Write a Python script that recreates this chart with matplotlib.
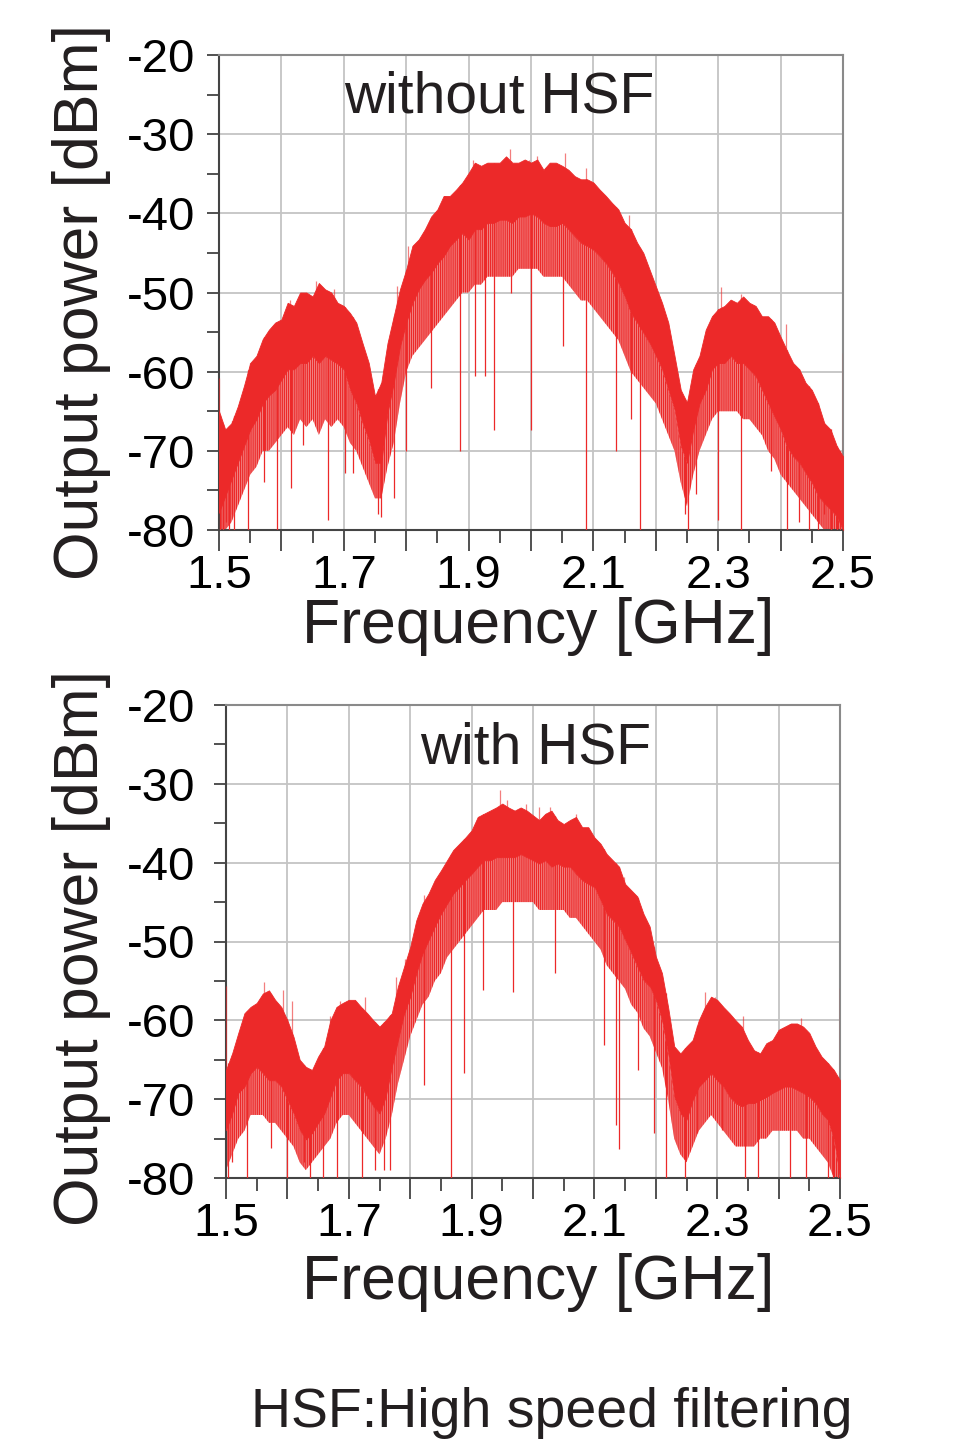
import numpy as np
import matplotlib.pyplot as plt
from matplotlib.ticker import MultipleLocator

plt.rcParams['font.family'] = ['Liberation Sans', 'DejaVu Sans']
plt.rcParams['hatch.linewidth'] = 0.9

# frequency grid of the read-off envelope [GHz]
freq = np.linspace(1.5, 2.5, 101)

# --- without HSF: top / bottom of the dense trace band, and reach of the sparse spikes [dBm] ---
top_hi = [-65, -67.3, -66.5, -64.4, -61.8, -58.9, -58, -55.9, -54.7, -53.8,
          -53.4, -51.3, -51.7, -50, -50, -50.5, -48.8, -49.6, -50, -51.3,
          -51.7, -52.6, -53.8, -56.4, -58.9, -63.1, -61.4, -56.4, -53, -49.6,
          -47.1, -44.1, -43.3, -42, -40.4, -39.5, -37.8, -37.8, -37, -36.1,
          -34.9, -33.6, -34, -33.6, -33.6, -33.6, -32.8, -33.6, -33.6, -33.2,
          -33.6, -33.2, -34.5, -33.6, -33.6, -34, -34.5, -35.3, -35.7, -35.7,
          -36.1, -37, -37.8, -38.7, -39.5, -41.2, -42, -43.7, -45, -47.1,
          -49.2, -51.3, -53.8, -58, -62.3, -63.9, -59.7, -58, -54.7, -53,
          -52.1, -51.7, -50.9, -51.3, -50.5, -51.3, -51.7, -53, -53, -53.8,
          -55.6, -57.3, -58.9, -59.7, -61.4, -62.3, -64, -66.5, -67.3, -69.4, -70.7]
top_lo = [-77.8, -75.7, -73.6, -71.5, -69.4, -67.3, -66, -64, -63, -62.3,
          -61, -59.7, -59.7, -58.9, -58.9, -58, -58.9, -58, -58.5, -59,
          -59.7, -62.3, -64, -66.5, -68.6, -71.5, -71.5, -65.2, -61.4, -56.8,
          -53.8, -51.3, -49.6, -48.4, -47.5, -46.3, -45.4, -44.1, -43.3, -42.5,
          -43.3, -42, -42, -41.2, -41.2, -40.8, -40.8, -41.2, -40.4, -40.4,
          -40, -40.4, -41.2, -41.6, -41.6, -41.2, -42, -42.9, -43.7, -44.1,
          -44.6, -45.4, -46.3, -47.5, -48.8, -50.5, -52.6, -53.8, -55.1, -56.4,
          -58, -59.7, -62.3, -64.8, -69.4, -71.5, -67.3, -64, -62.3, -59.7,
          -58.9, -58.9, -58, -58.9, -58.9, -59.7, -60.6, -62.3, -64, -65.7,
          -67.3, -69.4, -70.7, -71.5, -72.8, -74, -75.7, -76.6, -77.4, -78.3, -80]
top_lo2 = [-80, -80, -79, -77, -75, -73, -72, -70, -70, -69,
           -68, -67, -68, -66, -67, -66, -68, -66, -67, -66,
           -67, -69, -70, -72, -74, -76, -76, -72, -69, -64,
           -60, -58, -57, -56, -55, -54, -53, -52, -51, -50,
           -50, -49, -49, -48, -48, -48, -48, -48, -47, -47,
           -47, -47, -48, -48, -48, -48, -49, -50, -51, -51,
           -52, -53, -54, -55, -56, -58, -60, -61, -62, -63,
           -64, -66, -68, -70, -74, -77, -73, -70, -68, -66,
           -65, -65, -65, -65, -66, -66, -67, -68, -70, -71,
           -73, -74, -75, -76, -77, -78, -79, -80, -80, -80, -80]
# deep dips and high spikes (without HSF)
top_dip_f = [1.502, 1.507, 1.511, 1.516, 1.521, 1.524, 1.547, 1.572, 1.593, 1.616, 1.635,
             1.675, 1.702, 1.714, 1.755, 1.76, 1.78, 1.80, 1.839, 1.887, 1.91,
             1.926, 1.941, 1.968, 2.0, 2.052, 2.088, 2.136, 2.16, 2.175, 2.247,
             2.251, 2.264, 2.3, 2.337, 2.385, 2.41, 2.43, 2.445, 2.46, 2.47,
             2.48, 2.49, 2.495]
top_dip_v = [-80, -80, -79, -80, -78, -80, -80, -73.9, -80, -74.7, -69.3,
             -78.7, -72.8, -72.8, -78, -78.3, -76, -70, -62, -70, -60.6,
             -60.6, -67.4, -50, -67.4, -56.8, -80, -70, -66, -80, -78,
             -80, -75.4, -78.7, -80, -72.6, -80, -79, -80, -80, -78,
             -80, -80, -80]
top_pk_f = [1.500, 1.549, 1.613, 1.656, 1.685, 1.786, 1.803, 1.862, 1.907, 1.966,
            1.996, 2.010, 2.054, 2.088, 2.157, 2.305, 2.337, 2.409, 2.500]
top_pk_v = [-60.8, -58.9, -50.9, -48.6, -49.5, -49.2, -44.1, -37.8, -33.2, -31.9,
            -33.2, -32.8, -32.4, -34.3, -40.2, -49.3, -50.2, -54, -57.6]

# --- with HSF ---
bot_hi = [-66.3, -64.2, -61.6, -59.1, -58.3, -57.8, -56.6, -56.2, -57.4, -58.3,
          -60, -62.1, -65, -65.9, -66.3, -64.6, -63.3, -60, -58.3, -57.8,
          -57.4, -57.4, -58.3, -59.1, -60, -60.8, -60, -59.1, -55.7, -53.2,
          -50.7, -47.3, -45.2, -43.9, -42.2, -41, -39.7, -38.4, -37.6, -36.8,
          -35.9, -34.2, -33.8, -33.4, -33, -32.5, -33, -33.4, -33, -33.4,
          -34, -34.6, -33.8, -33.4, -34.6, -35.1, -34.6, -34.2, -35.5, -35.5,
          -36.8, -37.6, -38.9, -39.7, -40.5, -42.7, -43.5, -44.3, -46.5, -48.1,
          -51.9, -54, -58.3, -63.3, -64.2, -63.3, -62.5, -60, -58.3, -57,
          -57.4, -58.3, -59.1, -60, -60.8, -62.5, -63.8, -64.2, -62.9, -62.5,
          -61.2, -60.8, -60.4, -60.4, -60.8, -61.6, -63.3, -64.6, -65.4, -66.3, -67.6]
bot_lo = [-73.9, -71.8, -69.2, -68.4, -66.7, -65.9, -66.7, -67.6, -67.6, -68.4,
          -70.1, -71.8, -73.9, -75.1, -74.3, -73, -71.8, -69.7, -67.6, -66.7,
          -66.7, -67.6, -68.4, -69.7, -70.9, -71.8, -69.7, -65.9, -62.5, -59.1,
          -57, -54, -51.5, -49.8, -48.1, -46.5, -45.2, -43.9, -43.1, -42.2,
          -41.4, -40.5, -39.7, -39.7, -39.3, -39.3, -39.3, -39.3, -38.9, -39.3,
          -39.7, -40.1, -39.7, -40.5, -40.1, -40.5, -40.5, -41.4, -42.2, -42.7,
          -43.1, -44.8, -46.5, -47.3, -48.1, -49.8, -51.5, -53.2, -54.9, -55.7,
          -57.4, -60, -64.2, -69.7, -71.8, -72.6, -70.1, -68.4, -67.6, -66.7,
          -67.6, -68.4, -69.7, -70.5, -70.9, -70.5, -70.5, -70.1, -69.7, -69.2,
          -68.8, -68.4, -68.4, -68.8, -69.2, -69.7, -70.5, -71.8, -72.6, -75.1, -80]
bot_lo2 = [-79, -77, -75, -74, -72, -72, -72, -73, -73, -74,
           -75, -76, -78, -79, -78, -77, -76, -75, -73, -72,
           -72, -73, -74, -75, -76, -77, -75, -72, -68, -65,
           -62, -60, -58, -57, -55, -54, -52, -51, -50, -49,
           -48, -47, -46, -46, -46, -45, -45, -45, -45, -45,
           -45, -46, -46, -46, -46, -46, -47, -47, -48, -49,
           -50, -51, -53, -54, -55, -56, -58, -59, -61, -62,
           -64, -66, -70, -75, -77, -78, -76, -74, -73, -72,
           -73, -74, -75, -76, -76, -76, -76, -75, -75, -74,
           -74, -74, -74, -74, -75, -75, -76, -77, -78, -80, -80]
bot_dip_f = [1.504, 1.509, 1.534, 1.574, 1.599, 1.627, 1.636, 1.658, 1.681, 1.721,
             1.742, 1.757, 1.767, 1.822, 1.866, 1.887, 1.919, 1.967, 2.036, 2.115,
             2.135, 2.14, 2.171, 2.197, 2.216, 2.247, 2.267, 2.308, 2.346, 2.366,
             2.418, 2.445, 2.48, 2.488, 2.497]
bot_dip_v = [-80, -78, -80, -76.2, -80, -78, -80, -80, -80, -80,
             -79, -79, -79, -68.2, -80, -66.7, -56.2, -56.4, -54, -63.1,
             -73.3, -76.3, -66.3, -74.3, -80, -80, -74.3, -73.9, -80, -80,
             -80, -80, -80, -80, -80]
bot_pk_f = [1.500, 1.562, 1.593, 1.608, 1.670, 1.685, 1.727, 1.777, 1.791, 1.822,
            1.869, 1.912, 1.947, 1.958, 1.988, 2.010, 2.028, 2.070, 2.149, 2.280,
            2.296, 2.342, 2.436, 2.500]
bot_pk_v = [-55.7, -55.1, -56.2, -57.6, -59.5, -57.6, -57, -54.5, -52.2, -44.1,
            -38.6, -34.2, -30.8, -32.1, -32.5, -33, -33, -33.8, -41.8, -56.4,
            -57, -59.5, -59.7, -55.9]

RED = '#ec2929'

fig = plt.figure(figsize=(9.54, 14.41), dpi=100)
ax1 = fig.add_axes([219 / 954, 1 - 530 / 1441, 624 / 954, 475 / 1441])
ax2 = fig.add_axes([226 / 954, 1 - 1178 / 1441, 614 / 954, 473 / 1441])


def draw(ax, hi, lo, lo2, dip_f, dip_v, pk_f, pk_v, label, lx, ly, ypad):
    # sparse spikes under the band: striped lighter layer
    ax.fill_between(freq, lo2, lo, facecolor='#f39090', edgecolor=RED,
                    hatch='||||||||', lw=0, zorder=2)
    ax.fill_between(freq, lo, hi, color=RED, lw=0.6, edgecolor=RED, zorder=3)
    ax.vlines(dip_f, dip_v, np.interp(dip_f, freq, hi), color=RED, lw=0.9, zorder=3)
    ax.vlines(pk_f, pk_v, np.interp(pk_f, freq, lo), color=RED, lw=0.9,
              alpha=0.6, zorder=3)
    ax.set_xlim(1.5, 2.5)
    ax.set_ylim(-80, -20)
    ax.xaxis.set_minor_locator(MultipleLocator(0.05))
    ax.yaxis.set_minor_locator(MultipleLocator(5))
    ax.set_xticks([1.5, 1.6, 1.7, 1.8, 1.9, 2.0, 2.1, 2.2, 2.3, 2.4, 2.5])
    ax.set_xticklabels(['1.5', '', '1.7', '', '1.9', '', '2.1', '', '2.3', '', '2.5'])
    ax.set_yticks([-20, -30, -40, -50, -60, -70, -80])
    ax.set_yticklabels(['-20', '-30', '-40', '-50', '-60', '-70', '-80'])
    ax.grid(True, which='major', color='#c4c4c4', lw=1.3, zorder=0)
    ax.set_axisbelow(True)
    ax.tick_params(axis='x', which='major', direction='out', length=15, width=1.2,
                   labelsize=34, pad=2, color='#333333')
    ax.tick_params(axis='x', which='minor', direction='out', length=9, width=1.2,
                   color='#333333')
    ax.tick_params(axis='y', which='both', direction='out', length=9, width=1.2,
                   labelsize=34, pad=ypad, color='#333333')
    for s in ['left', 'bottom']:
        ax.spines[s].set_color('#444444')
        ax.spines[s].set_linewidth(1.5)
    for s in ['top', 'right']:
        ax.spines[s].set_color('#8a8a8a')
        ax.spines[s].set_linewidth(1.5)
    ax.text(lx, ly, label, fontsize=41, ha='center', va='baseline', color='#231f20')


draw(ax1, top_hi, top_lo, top_lo2, top_dip_f, top_dip_v, top_pk_f, top_pk_v,
     'without HSF', 1.949, -27.3, 8)
draw(ax2, bot_hi, bot_lo, bot_lo2, bot_dip_f, bot_dip_v, bot_pk_f, bot_pk_v,
     'with HSF', 2.005, -27.4, 13)

txt = '#231f20'
fig.text(82 / 954, 1 - 302 / 1441, 'Output power [dBm]', rotation=90, fontsize=45,
         ha='center', va='center', color=txt)
fig.text(82 / 954, 1 - 948 / 1441, 'Output power [dBm]', rotation=90, fontsize=45,
         ha='center', va='center', color=txt)
fig.text(538 / 954, 1 - 627 / 1441, 'Frequency [GHz]', fontsize=45,
         ha='center', va='center', color=txt)
fig.text(538 / 954, 1 - 1282 / 1441, 'Frequency [GHz]', fontsize=45,
         ha='center', va='center', color=txt)
fig.text(552 / 954, 1 - 1427 / 1441, 'HSF:High speed filtering', fontsize=40,
         ha='center', va='baseline', color=txt)

fig.savefig('out.png', dpi=100, facecolor='white')
